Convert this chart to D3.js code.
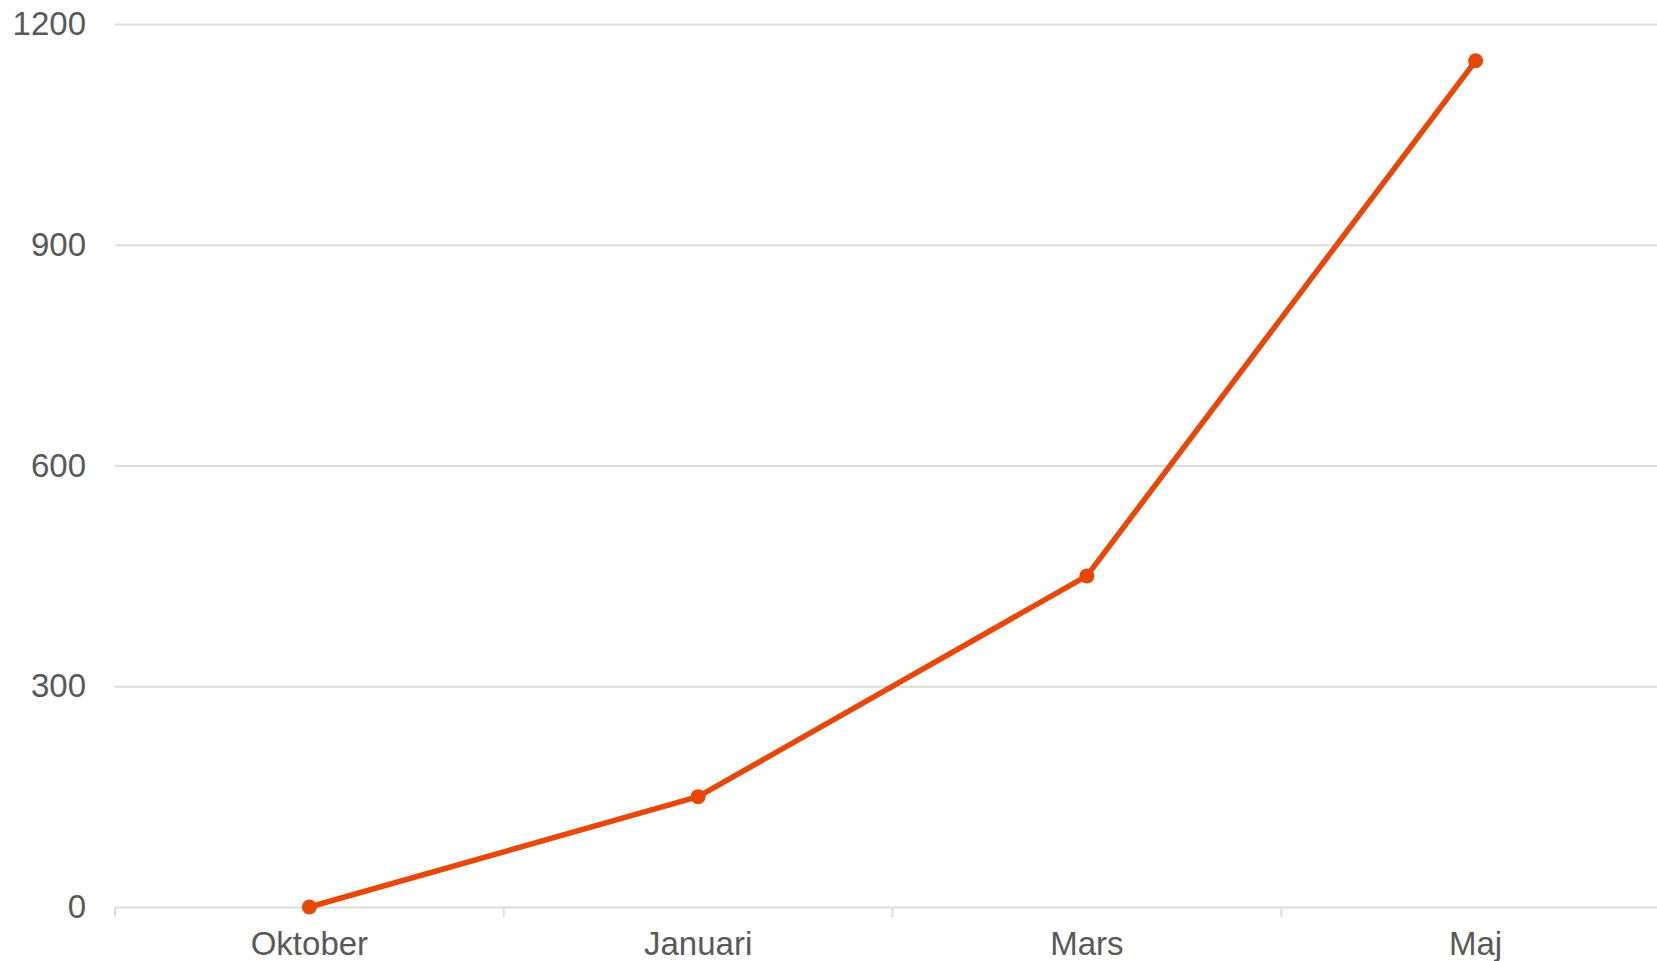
<!DOCTYPE html>
<html>
<head>
<meta charset="utf-8">
<script src="https://cdnjs.cloudflare.com/ajax/libs/d3/7.8.5/d3.min.js"></script>
<style>
  html, body { margin: 0; padding: 0; background: #fff; overflow: hidden; }
  .tick text { font-family: "Liberation Sans", Arial, sans-serif; font-size: 33px; fill: #595959; }
</style>
</head>
<body>
<div class="chart"></div>
<script>
var months = ['Oktober', 'Januari', 'Mars', 'Maj'];
var values = [0, 150, 450, 1150];
var yTicks = [0, 300, 600, 900, 1200];

var svgWidth = 1657;
var svgHeight = 961;

var margin = { top: 24, right: -13, bottom: 54, left: 115 };
var width = svgWidth - margin.left - margin.right;
var height = svgHeight - margin.top - margin.bottom;

var svg = d3.select('.chart')
  .append('svg')
  .attr('width', svgWidth)
  .attr('height', svgHeight)
  .append('g')
  .attr('transform', 'translate(' + margin.left + ',' + margin.top + ')');

var x = d3.scaleBand().domain(months).range([0, width]).padding(0);
var y = d3.scaleLinear().domain([0, 1200]).range([height, 0]);

// horizontal grid + y labels
var left = d3.axisLeft(y).tickValues(yTicks).tickFormat(d3.format('d')).tickSize(-width).tickPadding(29);
var yAxis = svg.append('g').attr('class', 'y_axis').call(left);
yAxis.select('.domain').remove();
yAxis.selectAll('.tick line').attr('stroke', '#dcdcdc').attr('stroke-width', 2);

// x axis, ticks sit between the bands
var bottom = d3.axisBottom(x).tickSize(0).tickPadding(25);
var xAxis = svg.append('g')
  .attr('class', 'x_axis')
  .attr('transform', 'translate(0,' + height + ')')
  .call(bottom);
xAxis.select('.domain').remove();
xAxis.selectAll('.tick text').attr('dy', '0.71em');

svg.append('g')
  .selectAll('line')
  .data(d3.range(months.length + 1))
  .enter()
  .append('line')
  .attr('x1', function(i) { return i * x.step(); })
  .attr('x2', function(i) { return i * x.step(); })
  .attr('y1', height)
  .attr('y2', height + 10)
  .attr('stroke', '#dcdcdc')
  .attr('stroke-width', 2);

var data = months.map(function(m, i) { return { month: m, value: values[i] }; });

var line = d3.line()
  .x(function(d) { return x(d.month) + x.bandwidth() / 2; })
  .y(function(d) { return y(d.value); });

svg.append('path')
  .datum(data)
  .attr('d', line)
  .attr('fill', 'none')
  .attr('stroke', '#e8470a')
  .attr('stroke-width', 5.5)
  .attr('stroke-linejoin', 'round');

svg.selectAll('circle')
  .data(data)
  .enter()
  .append('circle')
  .attr('cx', function(d) { return x(d.month) + x.bandwidth() / 2; })
  .attr('cy', function(d) { return y(d.value); })
  .attr('r', 7.5)
  .attr('fill', '#e8470a');
</script>
</body>
</html>
